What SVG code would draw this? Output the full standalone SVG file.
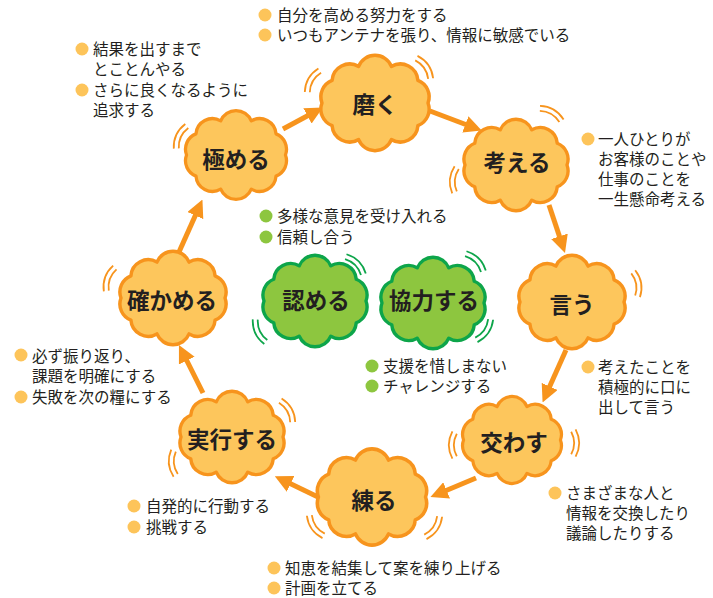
<svg xmlns="http://www.w3.org/2000/svg" xmlns:xlink="http://www.w3.org/1999/xlink" width="713" height="598" viewBox="0 0 713 598">
<style>
  .oc { fill: #FDC65C; stroke: #F7941D; stroke-width: 3.4; stroke-linejoin: round; }
  .gc { fill: #8DC63F; stroke: #0DA54A; stroke-width: 3.4; stroke-linejoin: round; }
  .lbl { font-family: "Noto Sans CJK JP", "Noto Sans", sans-serif; font-weight: bold; font-size: 22.5px; fill: #231F20; text-anchor: middle; }
  .txt { font-family: "Noto Sans CJK JP", "Noto Sans", sans-serif; font-size: 15.5px; fill: #231F20; }
  .ob { fill: #FDC45A; }
  .gb { fill: #8DC63F; }
  .arr { fill: none; stroke: #F7941D; stroke-width: 5; marker-end: url(#ah); }
  .vo { fill: none; stroke: #F7941D; stroke-width: 1.8; }
  .vg { fill: none; stroke: #0DA54A; stroke-width: 1.8; }
</style>
<defs>
  <marker id="ah" viewBox="0 0 10 10" refX="1" refY="5" markerWidth="3.5" markerHeight="3.5" orient="auto">
    <path d="M0,0 L10,5 L0,10 z" fill="#F7941D"/>
  </marker>
  <path id="cloud" d="M15.76,-35.19 A17,17 0 0 1 41.26,-21.75 A17,17 0 0 1 51,0 A17,17 0 0 1 41.26,21.75 A17,17 0 0 1 15.76,35.19 A17,17 0 0 1 -15.76,35.19 A17,17 0 0 1 -41.26,21.75 A17,17 0 0 1 -51,0 A17,17 0 0 1 -41.26,-21.75 A17,17 0 0 1 -15.76,-35.19 A17,17 0 0 1 15.76,-35.19 Z"/>
  <path id="vib" d="M-2.81,-11.27 A24,24 0 0 1 -2.81,11.27 M1.6,-13.62 A29,29 0 0 1 1.6,13.62"/>
</defs>

<g id="connectors">
  <path class="arr" d="M283,129 L309,115"/>
  <path class="arr" d="M430,111 L467,125"/>
  <path class="arr" d="M549,205 L560,238"/>
  <path class="arr" d="M566,350 L549,388"/>
  <path class="arr" d="M476,478 L445,491"/>
  <path class="arr" d="M318,497 L289,483"/>
  <path class="arr" d="M203,393 L186,359"/>
  <path class="arr" d="M179,252 L196,214"/>
</g>

<g id="vibration">
  <use href="#vib" class="vo" transform="translate(313,81) rotate(210)"/>
  <use href="#vib" class="vo" transform="translate(424,68) rotate(-35)"/>
  <use href="#vib" class="vo" transform="translate(551,114) rotate(-60)"/>
  <use href="#vib" class="vo" transform="translate(455,180) rotate(185)"/>
  <use href="#vib" class="vo" transform="translate(636,284) rotate(-10)"/>
  <use href="#vib" class="vo" transform="translate(454,445) rotate(180)"/>
  <use href="#vib" class="vo" transform="translate(574,443) rotate(0)"/>
  <use href="#vib" class="vo" transform="translate(316,526) rotate(145)"/>
  <use href="#vib" class="vo" transform="translate(433,527) rotate(35)"/>
  <use href="#vib" class="vo" transform="translate(174,463) rotate(175)"/>
  <use href="#vib" class="vo" transform="translate(287,411) rotate(-30)"/>
  <use href="#vib" class="vo" transform="translate(110,279) rotate(200)"/>
  <use href="#vib" class="vo" transform="translate(181,137) rotate(205)"/>
  <use href="#vib" class="vg" transform="translate(355,265) rotate(-45)"/>
  <use href="#vib" class="vg" transform="translate(260,331) rotate(155)"/>
  <use href="#vib" class="vg" transform="translate(475,262) rotate(-45)"/>
  <use href="#vib" class="vg" transform="translate(484,330) rotate(35)"/>
</g>

<g id="node-migaku">
  <use href="#cloud" class="oc" transform="translate(375,103) scale(1.04)"/>
  <text class="lbl" x="375" y="113">磨く</text>
</g>
<g id="node-kangaeru">
  <use href="#cloud" class="oc" transform="translate(516,165)"/>
  <text class="lbl" x="517" y="171">考える</text>
</g>
<g id="node-iu">
  <use href="#cloud" class="oc" transform="translate(572,302) scale(1.02)"/>
  <text class="lbl" x="572" y="313">言う</text>
</g>
<g id="node-kawasu">
  <use href="#cloud" class="oc" transform="translate(512,440) scale(0.95)"/>
  <text class="lbl" x="514" y="451">交わす</text>
</g>
<g id="node-neru">
  <use href="#cloud" class="oc" transform="translate(372,497) scale(1.05)"/>
  <text class="lbl" x="374" y="509">練る</text>
</g>
<g id="node-jikkou">
  <use href="#cloud" class="oc" transform="translate(232,437)"/>
  <text class="lbl" x="232" y="448">実行する</text>
</g>
<g id="node-tashikameru">
  <use href="#cloud" class="oc" transform="translate(173,298) scale(1.02)"/>
  <text class="lbl" x="172" y="309">確かめる</text>
</g>
<g id="node-kiwameru">
  <use href="#cloud" class="oc" transform="translate(236,155) scale(0.97)"/>
  <text class="lbl" x="236" y="168">極める</text>
</g>
<g id="node-mitomeru">
  <use href="#cloud" class="gc" transform="translate(315,301)"/>
  <text class="lbl" x="316" y="309">認める</text>
</g>
<g id="node-kyouryoku">
  <use href="#cloud" class="gc" transform="translate(433,303)"/>
  <text class="lbl" x="434" y="309">協力する</text>
</g>

<g id="note-top">
  <circle class="ob" cx="265" cy="15" r="6.5"/>
  <text class="txt" x="277" y="21">自分を高める努力をする</text>
  <circle class="ob" cx="265" cy="35" r="6.5"/>
  <text class="txt" x="277" y="41">いつもアンテナを張り、情報に敏感でいる</text>
</g>
<g id="note-topleft">
  <circle class="ob" cx="82" cy="49" r="6.5"/>
  <text class="txt" x="93" y="55">結果を出すまで</text>
  <text class="txt" x="93" y="75">とことんやる</text>
  <circle class="ob" cx="82" cy="90" r="6.5"/>
  <text class="txt" x="93" y="96">さらに良くなるように</text>
  <text class="txt" x="93" y="116">追求する</text>
</g>
<g id="note-right1">
  <circle class="ob" cx="588" cy="139" r="6.5"/>
  <text class="txt" x="598" y="145">一人ひとりが</text>
  <text class="txt" x="598" y="165">お客様のことや</text>
  <text class="txt" x="598" y="185">仕事のことを</text>
  <text class="txt" x="598" y="205">一生懸命考える</text>
</g>
<g id="note-green1">
  <circle class="gb" cx="266" cy="216" r="6.5"/>
  <text class="txt" x="277" y="222">多様な意見を受け入れる</text>
  <circle class="gb" cx="266" cy="237" r="6.5"/>
  <text class="txt" x="277" y="243">信頼し合う</text>
</g>
<g id="note-green2">
  <circle class="gb" cx="372" cy="366" r="6.5"/>
  <text class="txt" x="383" y="372">支援を惜しまない</text>
  <circle class="gb" cx="372" cy="386" r="6.5"/>
  <text class="txt" x="383" y="392">チャレンジする</text>
</g>
<g id="note-right2">
  <circle class="ob" cx="588" cy="367" r="6.5"/>
  <text class="txt" x="598" y="373">考えたことを</text>
  <text class="txt" x="598" y="393">積極的に口に</text>
  <text class="txt" x="598" y="413">出して言う</text>
</g>
<g id="note-left">
  <circle class="ob" cx="21" cy="355" r="6.5"/>
  <text class="txt" x="32" y="362">必ず振り返り、</text>
  <text class="txt" x="32" y="382">課題を明確にする</text>
  <circle class="ob" cx="21" cy="397" r="6.5"/>
  <text class="txt" x="32" y="403">失敗を次の糧にする</text>
</g>
<g id="note-bottomright">
  <circle class="ob" cx="555" cy="493" r="6.5"/>
  <text class="txt" x="566" y="499">さまざまな人と</text>
  <text class="txt" x="566" y="519">情報を交換したり</text>
  <text class="txt" x="566" y="539">議論したりする</text>
</g>
<g id="note-bottomleft">
  <circle class="ob" cx="134" cy="506" r="6.5"/>
  <text class="txt" x="146" y="512">自発的に行動する</text>
  <circle class="ob" cx="134" cy="527" r="6.5"/>
  <text class="txt" x="146" y="533">挑戦する</text>
</g>
<g id="note-bottom">
  <circle class="ob" cx="274" cy="568" r="6.5"/>
  <text class="txt" x="285" y="574">知恵を結集して案を練り上げる</text>
  <circle class="ob" cx="274" cy="588" r="6.5"/>
  <text class="txt" x="285" y="594">計画を立てる</text>
</g>
</svg>
